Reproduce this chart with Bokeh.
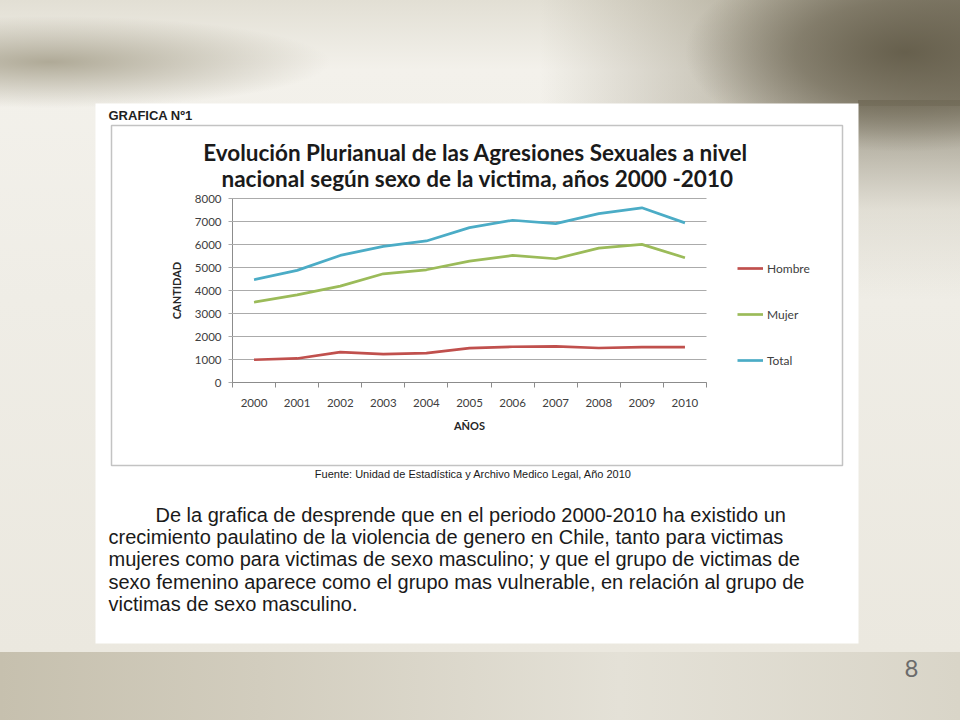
import math
from bokeh.plotting import figure
from bokeh.models import (Range1d, LinearAxis, FixedTicker, Label,
                          BoxAnnotation, Legend, LegendItem)
from bokeh.embed import file_html
from bokeh.resources import INLINE

# ---------------- data ----------------
years = ["2000", "2001", "2002", "2003", "2004", "2005",
         "2006", "2007", "2008", "2009", "2010"]
hombre = [990, 1045, 1320, 1235, 1280, 1495, 1555, 1570, 1500, 1540, 1540]
mujer = [3490, 3810, 4190, 4725, 4900, 5280, 5525, 5380, 5845, 6005, 5425]
total = [4470, 4875, 5525, 5920, 6155, 6735, 7055, 6910, 7345, 7595, 6940]
y_ticks = [0, 1000, 2000, 3000, 4000, 5000, 6000, 7000, 8000]
series_names = ["Hombre", "Mujer", "Total"]

header_text = "GRAFICA Nº1"
title_lines = ["Evolución Plurianual de las Agresiones Sexuales a nivel",
               "nacional según sexo de la victima, años 2000 -2010"]
y_label = "CANTIDAD"
x_label = "AÑOS"
source_text = "Fuente: Unidad de Estadística y Archivo Medico Legal, Año 2010"
paragraph_lines = [
    "De la grafica de desprende que  en el periodo 2000-2010 ha existido un",
    "crecimiento paulatino de la violencia de genero en Chile, tanto para victimas",
    "mujeres como para victimas de sexo masculino; y que el grupo de victimas de",
    "sexo femenino aparece como el grupo mas vulnerable, en relación al grupo de",
    "victimas de sexo masculino.",
]
page_number = "8"

# ---------------- layout ----------------
W, H = 960, 720
FL, FR, FT, FB = 232, 706, 198, 382        # chart plot area (page pixels)
n = len(years)
kx = (FR - FL) / n                          # px per category
ky = (FB - FT) / (y_ticks[-1] - y_ticks[0])  # px per unit
chart_x = Range1d(0 - FL / kx, n + (W - FR) / kx)
chart_y = Range1d(y_ticks[0] - (H - FB) / ky, y_ticks[-1] + FT / ky)

bg_css = ", ".join([
    "radial-gradient(ellipse 220px 100px at 905px 52px, rgba(98,91,72,0.92) 0%, rgba(108,101,82,0.65) 50%, rgba(120,113,94,0) 100%)",
    "linear-gradient(to bottom, rgba(120,114,95,0.85) 0px, rgba(140,134,115,0.6) 40px, rgba(190,185,168,0.3) 110px, rgba(220,216,205,0) 200px) 858px 100px / 102px 200px no-repeat",
    "linear-gradient(to right, rgba(160,153,132,0) 540px, rgba(150,143,122,0.5) 740px, rgba(118,111,92,0.8) 960px) 0px 0px / 100% 106px no-repeat",
    "radial-gradient(ellipse 280px 46px at 50px 62px, rgba(168,162,142,0.9) 0%, rgba(168,162,142,0) 100%)",
    "linear-gradient(to right, #c6c0ae 0px, #d2cdbe 260px, #e4e1d7 620px, #d9d5c8 960px) 0px 652px / 100% 68px no-repeat",
    "linear-gradient(to bottom, #e2dfd4 0px, #f3f1eb 70px, #efede6 300px, #ebe8df 652px)",
])

p = figure(width=W, height=H,
           x_range=Range1d(0, W), y_range=Range1d(H, 0),
           x_axis_type=None, y_axis_type=None,
           output_backend="svg", toolbar_location=None,
           min_border=0, styles={"background": bg_css})
p.extra_x_ranges = {"cx": chart_x}
p.extra_y_ranges = {"cy": chart_y}
p.border_fill_color = None
p.background_fill_color = None
p.outline_line_color = None

# white sheet and chart border (page pixels)
p.add_layout(BoxAnnotation(left=95, right=858, top=103, bottom=643,
                           fill_color="white", fill_alpha=1, line_color=None,
                           level="image"))
p.add_layout(BoxAnnotation(left=111, right=842, top=125, bottom=465,
                           fill_alpha=0, line_color="#c3c3c3", line_alpha=1,
                           line_width=1.5, level="image"))

# series
xpos = [i + 0.5 for i in range(n)]
colors = ["#c0504d", "#9bbb59", "#4bacc6"]
renderers = []
for vals, col in zip([hombre, mujer, total], colors):
    renderers.append(p.line(xpos, vals, line_color=col, line_width=2.7,
                            x_range_name="cx", y_range_name="cy"))

# y axis (its inward ticks act as the horizontal gridlines)
ya = LinearAxis(x_range_name="cx", y_range_name="cy", fixed_location=0,
                bounds=(y_ticks[0], y_ticks[-1]), ticker=FixedTicker(ticks=y_ticks),
                level="underlay")
ya.axis_line_color = "#8c8c8c"
ya.major_tick_line_color = "#ababab"
ya.major_tick_out = 4
ya.major_tick_in = FR - FL
ya.minor_tick_line_color = None
ya.major_label_standoff = 7
ya.major_label_text_font = "Lato"
ya.major_label_text_font_size = "11.5px"
ya.major_label_text_color = "#404040"
p.add_layout(ya, "left")

# x axis: labels at category centres, tick marks between categories
bounds = list(range(n + 1))
xa = LinearAxis(x_range_name="cx", y_range_name="cy", fixed_location=0,
                bounds=(0, n),
                ticker=FixedTicker(ticks=xpos, minor_ticks=bounds),
                major_label_overrides={xx: yy for xx, yy in zip(xpos, years)})
xa.axis_line_color = "#8c8c8c"
xa.major_tick_line_color = None
xa.major_tick_out = 5
xa.major_tick_in = 0
xa.minor_tick_line_color = "#8c8c8c"
xa.minor_tick_out = 5
xa.minor_tick_in = 0
xa.major_label_standoff = 11
xa.major_label_text_font = "Lato"
xa.major_label_text_font_size = "11.5px"
xa.major_label_text_color = "#404040"
p.add_layout(xa, "below")

# legend
legend = Legend(items=[LegendItem(label=s, renderers=[r]) for s, r in zip(series_names, renderers)],
                location=(737, H - 370), orientation="vertical",
                glyph_width=26, glyph_height=20, label_height=20, spacing=26,
                padding=0, margin=0, label_standoff=4,
                border_line_color=None, background_fill_alpha=0,
                label_text_font="Lato", label_text_font_size="12px",
                label_text_color="#404040")
p.add_layout(legend)


def add_text(x, y, text, size, font="Lato", style="normal", align="left",
             color="#1a1a1a", angle=0.0):
    p.add_layout(Label(x=x, y=y, text=text, text_font=font, text_font_size=size,
                       text_font_style=style, text_align=align,
                       text_baseline="middle", text_color=color, angle=angle))


add_text(108, 115, header_text, "13px", font="Liberation Sans", style="bold", color="#1f1f1f")
add_text(475, 152, title_lines[0], "22.5px", style="bold", align="center")
add_text(477, 178, title_lines[1], "22.5px", style="bold", align="center")
add_text(176, (FT + FB) / 2, y_label, "11px", style="bold", align="center",
         color="#262626", angle=math.pi / 2)
add_text((FL + FR) / 2, 425, x_label, "11px", style="bold", align="center", color="#262626")
add_text(473, 473, source_text, "11px", font="Liberation Sans", align="center")

para_y = [514, 536, 558, 581, 603]
para_x = [155, 108, 108, 108, 108]
for xx, yy, line in zip(para_x, para_y, paragraph_lines):
    add_text(xx, yy, line, "20px", font="Liberation Sans")

add_text(911, 668, page_number, "24px", align="center", color="#6b6b6b")

open("out.html", "w").write(file_html(p, INLINE))
